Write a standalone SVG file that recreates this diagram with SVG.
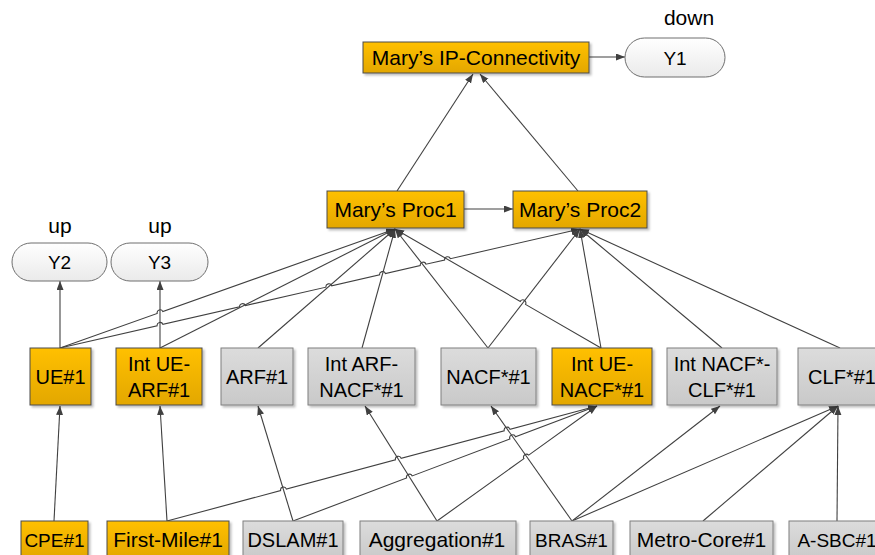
<svg xmlns="http://www.w3.org/2000/svg" width="875" height="555" viewBox="0 0 875 555">
<defs>
<linearGradient id="gO" x1="0" y1="0" x2="0" y2="1"><stop offset="0" stop-color="#FFC000"/><stop offset="1" stop-color="#E3A700"/></linearGradient>
<linearGradient id="gG" x1="0" y1="0" x2="0" y2="1"><stop offset="0" stop-color="#DCDCDC"/><stop offset="1" stop-color="#C9C9C9"/></linearGradient>
<linearGradient id="gW" x1="0" y1="0" x2="0" y2="1"><stop offset="0" stop-color="#FFFFFF"/><stop offset="1" stop-color="#EAEAEA"/></linearGradient>
<filter id="sh" x="-10%" y="-10%" width="130%" height="140%"><feDropShadow dx="2" dy="2" stdDeviation="1" flood-color="#000" flood-opacity="0.25"/></filter>
<marker id="ar" markerUnits="userSpaceOnUse" markerWidth="10" markerHeight="8" refX="9" refY="3.5" orient="auto"><path d="M0,0 L9,3.5 L0,7 z" fill="#404040"/></marker>
</defs>
<style>
.o{fill:url(#gO);stroke:#4a4a4a;stroke-width:1;filter:url(#sh)}
.g{fill:url(#gG);stroke:#7f7f7f;stroke-width:1;filter:url(#sh)}
.w{fill:url(#gW);stroke:#6f6f6f;stroke-width:1}
text{font-family:"Liberation Sans",Arial,sans-serif;font-size:20px;fill:#000;text-anchor:middle}
.lc{font-size:21px}
.cp{font-size:19px}
#conn path,#conn line{stroke:#404040;stroke-width:1.1;fill:none;marker-end:url(#ar)}
</style>
<g id="conn">
<line x1="589" y1="57" x2="625" y2="57"/>
<line x1="464" y1="209" x2="513" y2="209"/>
<line x1="397" y1="191" x2="473" y2="74"/>
<line x1="578" y1="191" x2="480" y2="74"/>
<line x1="60" y1="348" x2="60" y2="281"/>
<line x1="160" y1="348" x2="160" y2="281"/>
<path d="M60,348 L157.2,313.5 A3,3 0 0 1 162.8,311.5 L395,229"/>
<line x1="160" y1="348" x2="395" y2="229"/>
<line x1="258" y1="348" x2="395" y2="229"/>
<line x1="362" y1="348" x2="395" y2="229"/>
<line x1="488" y1="348" x2="395" y2="229"/>
<path d="M601,348 L525.5,304.4 A3,3 0 0 0 520.3,301.4 L395,229"/>
<path d="M60,348 L157.1,325.8 A3,3 0 0 1 162.9,324.4 L239.6,306.9 A3,3 0 0 1 245.4,305.6 L325.9,287.2 A3,3 0 0 1 331.7,285.8 L379.6,274.9 A3,3 0 0 1 385.4,273.5 L420.2,265.6 A3,3 0 0 1 426.0,264.2 L444.6,260.0 A3,3 0 0 1 450.4,258.7 L580,229"/>
<line x1="488" y1="348" x2="580" y2="229"/>
<line x1="601" y1="348" x2="580" y2="229"/>
<line x1="722" y1="348" x2="580" y2="229"/>
<line x1="840" y1="348" x2="580" y2="229"/>
<line x1="54" y1="521" x2="60" y2="406"/>
<line x1="167" y1="521" x2="160" y2="406"/>
<path d="M167,521 L280.6,490.6 A3,3 0 0 1 286.4,489.1 L395.4,459.9 A3,3 0 0 1 401.2,458.4 L504.2,430.8 A3,3 0 0 1 510.0,429.3 L597,406"/>
<line x1="293" y1="521" x2="258" y2="406"/>
<path d="M293,521 L406.6,478.0 A3,3 0 0 1 412.2,475.9 L509.9,439.0 A3,3 0 0 1 515.5,436.8 L597,406"/>
<line x1="437" y1="521" x2="365" y2="406"/>
<path d="M437,521 L523.9,458.6 A3,3 0 0 1 528.7,455.1 L597,406"/>
<line x1="572" y1="521" x2="491" y2="406"/>
<line x1="572" y1="521" x2="720" y2="406"/>
<line x1="572" y1="521" x2="838" y2="406"/>
<line x1="703" y1="521" x2="838" y2="406"/>
<line x1="837" y1="521" x2="838" y2="406"/>
</g>
<g id="ipconn"><rect class="o" x="363" y="42" width="226" height="31"/><text class="lc" x="476" y="65">Mary’s IP-Connectivity</text></g>
<g id="y1"><text class="lc" x="689" y="25">down</text><rect class="w" x="625" y="38" width="100" height="39" rx="19.5"/><text class="cp" x="675" y="65">Y1</text></g>
<g id="proc1"><rect class="o" x="327" y="191" width="137" height="37"/><text class="lc" x="395.5" y="217">Mary’s Proc1</text></g>
<g id="proc2"><rect class="o" x="513" y="191" width="134" height="37"/><text class="lc" x="580" y="217">Mary’s Proc2</text></g>
<g id="y2"><text class="lc" x="60" y="233">up</text><rect class="w" x="12" y="243" width="95" height="38" rx="19"/><text class="cp" x="59.5" y="269">Y2</text></g>
<g id="y3"><text class="lc" x="160" y="233">up</text><rect class="w" x="111" y="243" width="97" height="38" rx="19"/><text class="cp" x="159.5" y="269">Y3</text></g>
<g id="ue1"><rect class="o" x="30" y="348" width="61" height="57"/><text x="60.5" y="384">UE#1</text></g>
<g id="intuearf"><rect class="o" x="116" y="348" width="86" height="57"/><text x="159" y="371">Int UE-</text><text x="159" y="397">ARF#1</text></g>
<g id="arf"><rect class="g" x="221" y="348" width="72" height="57"/><text x="257" y="384">ARF#1</text></g>
<g id="intarfnacf"><rect class="g" x="308" y="348" width="107" height="57"/><text x="361.5" y="371">Int ARF-</text><text x="361.5" y="397">NACF*#1</text></g>
<g id="nacf"><rect class="g" x="441" y="348" width="95" height="57"/><text x="488.5" y="384">NACF*#1</text></g>
<g id="intuenacf"><rect class="o" x="552" y="348" width="100" height="57"/><text x="602" y="371">Int UE-</text><text x="602" y="397">NACF*#1</text></g>
<g id="intnacfclf"><rect class="g" x="667" y="348" width="110" height="57"/><text x="722" y="371">Int NACF*-</text><text x="722" y="397">CLF*#1</text></g>
<g id="clf"><rect class="g" x="798" y="348" width="85" height="57"/><text x="842" y="384">CLF*#1</text></g>
<g id="cpe"><rect class="o" x="21" y="521" width="67" height="38"/><text class="cp" x="54.5" y="547">CPE#1</text></g>
<g id="firstmile"><rect class="o" x="107" y="521" width="122" height="38"/><text class="lc" x="168" y="547">First-Mile#1</text></g>
<g id="dslam"><rect class="g" x="243" y="521" width="100" height="38"/><text x="293" y="547">DSLAM#1</text></g>
<g id="aggregation"><rect class="g" x="360" y="521" width="156" height="38"/><text class="lc" x="437" y="547">Aggregation#1</text></g>
<g id="bras"><rect class="g" x="530" y="521" width="83" height="38"/><text class="cp" x="571.5" y="547">BRAS#1</text></g>
<g id="metrocore"><rect class="g" x="630" y="521" width="143" height="38"/><text class="lc" x="701.5" y="547">Metro-Core#1</text></g>
<g id="asbc"><rect class="g" x="789" y="521" width="96" height="38"/><text class="cp" x="837" y="547">A-SBC#1</text></g>
</svg>
